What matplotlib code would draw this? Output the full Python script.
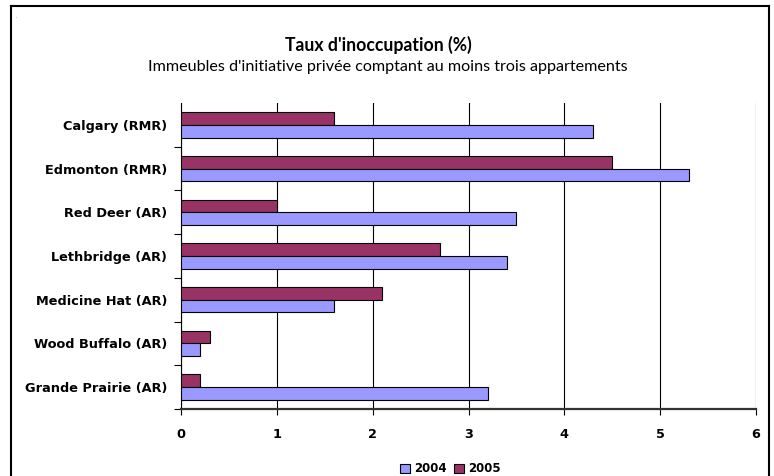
import numpy as np
import matplotlib.pyplot as plt
from matplotlib.lines import Line2D
from matplotlib.patches import Patch

villes = ["Calgary (RMR)", "Edmonton (RMR)", "Red Deer (AR)", "Lethbridge (AR)",
          "Medicine Hat (AR)", "Wood Buffalo (AR)", "Grande Prairie (AR)"]
taux_2004 = [4.3, 5.3, 3.5, 3.4, 1.6, 0.2, 3.2]
taux_2005 = [1.6, 4.5, 1.0, 2.7, 2.1, 0.3, 0.2]
annees = ["2004", "2005"]
couleurs = ["#9999FF", "#993366"]

plt.rcParams["font.family"] = ["Lato", "DejaVu Sans"]
lab_font = {"family": "DejaVu Sans", "weight": "bold", "size": 9.3}

fig = plt.figure(figsize=(7.74, 4.76), dpi=100)
W, H = 774, 476
ax = fig.add_axes([181 / W, (H - 409) / H, (756 - 181) / W, (409 - 103) / H])

y = np.arange(len(villes))
h = 0.29
ax.barh(y - h / 2, taux_2005, height=h, color=couleurs[1], edgecolor="black", linewidth=0.8, zorder=3)
ax.barh(y + h / 2, taux_2004, height=h, color=couleurs[0], edgecolor="black", linewidth=0.8, zorder=3)

ax.set_xlim(0, 6)
ax.set_ylim(len(villes) - 0.5, -0.5)
ax.set_xticks(range(7))
ax.set_xticklabels([str(i) for i in range(7)], fontdict=lab_font)
ax.set_yticks(y)
ax.set_yticklabels(villes, fontdict=lab_font)
ax.set_yticks(np.arange(len(villes)) + 0.5, minor=True)
ax.tick_params(axis="y", which="major", length=0, pad=10)
ax.tick_params(axis="y", which="minor", length=5, direction="out", width=0.8)
ax.tick_params(axis="x", length=4, direction="out", width=0.8, pad=10)
ax.grid(axis="x", color="black", linewidth=0.8, zorder=0)

ax.spines["top"].set_visible(False)
ax.spines["right"].set_visible(False)
ax.spines["left"].set_linewidth(0.8)
ax.spines["bottom"].set_linewidth(1.6)
ax.spines["bottom"].set_color("#333333")

fig.text(378 / W, 1 - 45 / H, "Taux d'inoccupation (%)", ha="center", va="center",
         fontsize=12.7, fontweight="bold")
fig.text(388 / W, 1 - 67 / H, "Immeubles d'initiative privée comptant au moins trois appartements",
         ha="center", va="center", fontsize=11.6)
fig.text(16 / W, 1 - 16 / H, ".", fontsize=4, color="gray", ha="center", va="center")

# cadre extérieur
x0, x1, y0 = 11 / W, 769 / W, 1 - 6 / H
for xs, ys in [([x0, x0], [y0, -0.1]), ([x0, x1], [y0, y0]), ([x1, x1], [y0, -0.1])]:
    fig.add_artist(Line2D(xs, ys, transform=fig.transFigure, color="black", linewidth=1.5))

handles = [Patch(facecolor=c, edgecolor="black", linewidth=0.8) for c in couleurs]
fig.legend(handles, annees, loc="center", bbox_to_anchor=(450 / W, 1 - 469 / H), ncol=2,
           frameon=False, prop={"family": "DejaVu Sans", "weight": "bold", "size": 8.5},
           handlelength=0.9, handleheight=0.9, handletextpad=0.3, columnspacing=0.6)

fig.savefig("out.png", dpi=100)
